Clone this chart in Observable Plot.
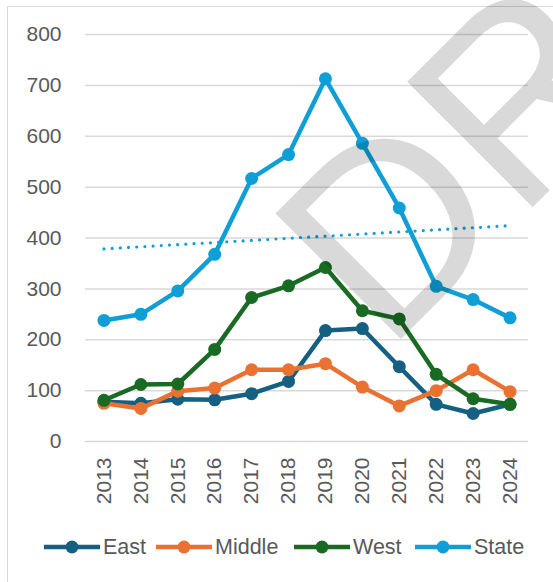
<!DOCTYPE html>
<html>
<head>
<meta charset="utf-8">
<script src="https://cdn.jsdelivr.net/npm/d3@7"></script>
<script src="https://cdn.jsdelivr.net/npm/@observablehq/plot@0.6"></script>
<style>
  html, body { margin: 0; padding: 0; background: #fff; }
  body { width: 553px; height: 582px; position: relative; overflow: hidden; font-family: "Liberation Sans", Arial, sans-serif; }
  #frame { position: absolute; left: 7px; top: 6px; width: 580px; height: 600px; border: 1px solid #d9d9d9; box-sizing: border-box; }
  #chart { position: absolute; left: 0; top: 0; }
  #legend { position: absolute; left: 0; top: 0; width: 553px; height: 582px; font-size: 21.5px; color: #595959; }
  .sw { position: absolute; top: 537px; }
  .lt { position: absolute; top: 535px; line-height: 24px; white-space: nowrap; }
  #wm { position: absolute; left: 0; top: 0; pointer-events: none; }
</style>
</head>
<body>
<div id="frame"></div>
<div id="chart"></div>
<div id="legend"></div>
<svg id="wm" width="553" height="582"><text x="386" y="354" transform="rotate(-45 386 354)" font-family="Liberation Sans, Arial, sans-serif" font-size="258" fill="#000" fill-opacity="0.15">DRAFT</text></svg>
<script>
const years = [2013, 2014, 2015, 2016, 2017, 2018, 2019, 2020, 2021, 2022, 2023, 2024];
const east   = [78, 75, 83, 82, 94, 118, 218, 222, 147, 73, 55, 73];
const middle = [75, 65, 99, 105, 141, 141, 153, 107, 70, 100, 141, 98];
const west   = [81, 112, 113, 181, 283, 306, 342, 257, 241, 132, 84, 73];
const state  = [238, 250, 296, 368, 517, 564, 713, 586, 459, 305, 279, 243];
const seriesNames = ["East", "Middle", "West", "State"];
const seriesColors = ["#156082", "#E97132", "#196B24", "#0F9ED5"];
const yTicks = [0, 100, 200, 300, 400, 500, 600, 700, 800];

const seriesValues = [east, middle, west, state];
const rowsFor = (i) => years.map((yr, j) => ({ year: yr, value: seriesValues[i][j], series: seriesNames[i] }));

const marks = [
  Plot.ruleY(yTicks, { stroke: "#d9d9d9", strokeWidth: 1.5 }),
  Plot.axisY({ ticks: yTicks, tickSize: 0, tickPadding: 24, label: null }),
  Plot.axisX({ ticks: years, tickFormat: d => String(d), tickRotate: -90, tickSize: 0, tickPadding: 16, label: null })
];
seriesNames.forEach((name, i) => {
  const rows = rowsFor(i);
  marks.push(Plot.line(rows, { x: "year", y: "value", stroke: seriesColors[i], strokeWidth: 4.5 }));
  marks.push(Plot.dot(rows, { x: "year", y: "value", r: 6.5, fill: seriesColors[i], stroke: null }));
});
marks.push(Plot.linearRegressionY(rowsFor(3), {
  x: "year", y: "value", ci: 0, stroke: "#0F9ED5", strokeWidth: 3.2,
  strokeDasharray: "0 8.2", strokeLinecap: "round"
}));

const chart = Plot.plot({
  width: 553,
  height: 520,
  marginLeft: 85,
  marginRight: 25,
  marginTop: 34,
  marginBottom: 79,
  x: { type: "linear", domain: [2012.5, 2024.5] },
  y: { domain: [0, 800] },
  style: { fontFamily: "Liberation Sans, Arial, sans-serif", fontSize: "21px", color: "#595959", background: "transparent", overflow: "visible" },
  marks
});
document.getElementById("chart").appendChild(chart);

// legend layout (item start positions in px)
const swatchX = [44, 156, 294, 415];
const legend = document.getElementById("legend");
seriesNames.forEach((name, i) => {
  const sw = document.createElement("div");
  sw.className = "sw";
  sw.style.left = swatchX[i] + "px";
  sw.innerHTML = `<svg width="56" height="20" style="display:block"><line x1="0" x2="56" y1="10" y2="10" stroke="${seriesColors[i]}" stroke-width="4.5"/><circle cx="28" cy="10" r="6.5" fill="${seriesColors[i]}"/></svg>`;
  legend.appendChild(sw);
  const t = document.createElement("div");
  t.className = "lt";
  t.style.left = (swatchX[i] + 59) + "px";
  t.textContent = name;
  legend.appendChild(t);
});
</script>
</body>
</html>
